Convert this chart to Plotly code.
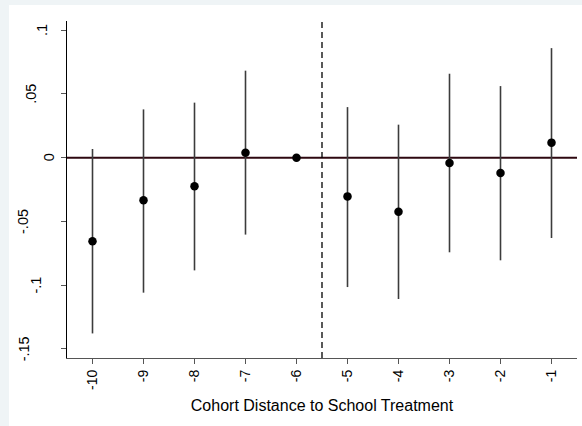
import plotly.graph_objects as go

cohort = [-10, -9, -8, -7, -6, -5, -4, -3, -2, -1]
coef = [-0.0657, -0.0335, -0.0225, 0.0039, 0.0, -0.0304, -0.0424, -0.0042, -0.0121, 0.0118]
ci_low = [-0.138, -0.106, -0.0885, -0.0604, None, -0.1016, -0.111, -0.0743, -0.0806, -0.0631]
ci_high = [0.0068, 0.0379, 0.0432, 0.0683, None, 0.0397, 0.0259, 0.0659, 0.0562, 0.086]
ytick_vals = [-0.15, -0.1, -0.05, 0, 0.05, 0.1]
ytick_text = ["-.15", "-.1", "-.05", "0", ".05", ".1"]
xtick_vals = cohort
xtick_text = [str(c) for c in cohort]
treat_line = -5.5
x_range = [-10.5, -0.5]
y_range = [-0.1573, 0.1073]

W, H = 582, 426
ml, mr, mt, mb = 67, 5, 21, 68
FONT = "Liberation Sans, Arial, sans-serif"
TICK_SIZE = 14.5

fig = go.Figure()

# zero reference line
fig.add_trace(go.Scatter(x=x_range, y=[0, 0], mode="lines",
                         line=dict(color="#2e0810", width=2),
                         hoverinfo="skip", showlegend=False))

# CI lines
xs, ys = [], []
for c, lo, hi in zip(cohort, ci_low, ci_high):
    if lo is None:
        continue
    xs += [c, c, None]
    ys += [lo, hi, None]
fig.add_trace(go.Scatter(x=xs, y=ys, mode="lines",
                         line=dict(color="#3c3c3c", width=1.6),
                         hoverinfo="skip", showlegend=False))

# treatment dashed line
fig.add_vline(x=treat_line, line=dict(color="black", width=1.3, dash="6px,4px"))

fig.add_trace(go.Scatter(x=cohort, y=coef, mode="markers",
                         marker=dict(color="black", size=8.5),
                         showlegend=False))

# light outer frame strips (top and left)
frame = "#EFF4F6"
pw, ph = W - ml - mr, H - mt - mb
fig.add_shape(type="rect", xref="paper", yref="paper",
              x0=-ml / pw, x1=(W - ml) / pw, y0=(H - mb - 5) / ph, y1=(H - mb) / ph,
              fillcolor=frame, line=dict(width=0), layer="above")
fig.add_shape(type="rect", xref="paper", yref="paper",
              x0=-ml / pw, x1=(9 - ml) / pw, y0=-mb / ph, y1=(H - mb) / ph,
              fillcolor=frame, line=dict(width=0), layer="above")

# y tick labels: rotated, right-aligned as if unrotated (Stata style)
cw = {"-": 0.333, ".": 0.278}
def text_w(s):
    return sum(cw.get(ch, 0.556) for ch in s) * TICK_SIZE
for v, t in zip(ytick_vals, ytick_text):
    cx = 60.6 - 1.48 * text_w(t)
    fig.add_annotation(x=0, xref="paper", y=v, yref="y", text=t, showarrow=False,
                       textangle=-90, xanchor="center", yanchor="middle",
                       xshift=cx - ml, font=dict(size=TICK_SIZE, family=FONT, color="black"))

fig.update_layout(
    width=W, height=H,
    margin=dict(l=ml, r=mr, t=mt, b=mb),
    paper_bgcolor="white",
    plot_bgcolor="white",
    font=dict(family=FONT, size=14, color="black"),
    xaxis=dict(range=x_range, tickvals=xtick_vals, ticktext=xtick_text,
               tickangle=-90, ticks="outside", ticklen=5, tickcolor="#555",
               tickfont=dict(size=14),
               showline=True, linecolor="#555", linewidth=1.2,
               showgrid=False, zeroline=False,
               title=dict(text="Cohort Distance to School Treatment",
                          font=dict(size=16), standoff=10)),
    yaxis=dict(range=y_range, tickvals=ytick_vals, ticktext=ytick_text,
               showticklabels=False,
               ticks="outside", ticklen=5, tickcolor="#555",
               showline=True, linecolor="black", linewidth=1.2,
               showgrid=False, zeroline=False),
)

fig.write_html("out.html")
